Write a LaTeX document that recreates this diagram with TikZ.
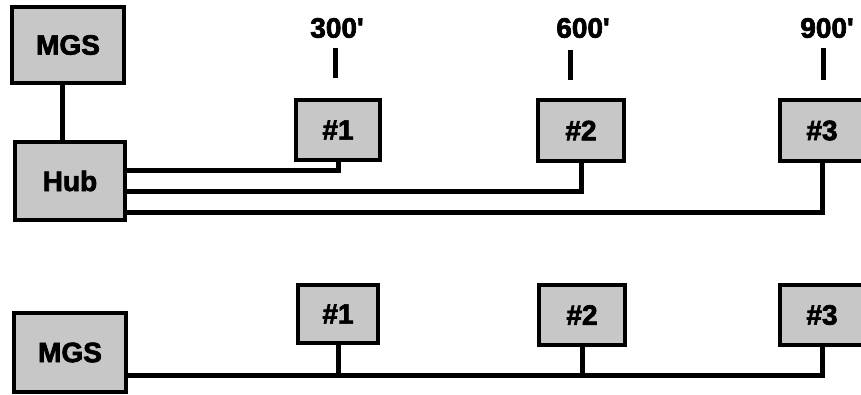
\documentclass[tikz,border=0pt]{standalone}
\usepackage{fontspec}
\setmainfont{Liberation Sans}
\newfontfamily\heavy{Liberation Sans Bold}[FakeBold=2.5]
\begin{document}
\begin{tikzpicture}[x=1pt,y=-1pt,
  box/.style={draw=black,line width=4.5pt,fill=black!22,inner sep=0pt,
    font=\heavy\fontsize{28}{28}\selectfont},
  lbl/.style={inner sep=0pt,font=\heavy\fontsize{28}{28}\selectfont},
  wire/.style={line width=5pt,line cap=butt},
  tick/.style={line width=5pt}]
\useasboundingbox (0,0) rectangle (861,394);
% top part
\node[box,minimum width=112pt,minimum height=76pt] (mgs) at (68,45) {MGS};
\node[box,minimum width=110pt,minimum height=78pt] (hub) at (70,181) {Hub};
\node[box,minimum width=84pt,minimum height=60pt] (t1) at (338,130) {\#1};
\node[box,minimum width=86pt,minimum height=61pt] (t2) at (581,130.5) {\#2};
\node[box,minimum width=84pt,minimum height=61pt] (t3) at (822,130.5) {\#3};
\node[lbl] (l1) at (337,28) {300'};
\node[lbl] (l2) at (583,28) {600'};
\node[lbl] (l3) at (827,28) {900'};
\coordinate (k1a) at (335,48); \coordinate (k1b) at (335,78);
\coordinate (k2a) at (570,50); \coordinate (k2b) at (570,80);
\coordinate (k3a) at (823,48); \coordinate (k3b) at (823,80);
\draw[tick] (k1a) -- (k1b);
\draw[tick] (k2a) -- (k2b);
\draw[tick] (k3a) -- (k3b);
\coordinate (mx) at (62,0);
\draw[wire] (mgs.south -| mx) -- (hub.north -| mx);
\coordinate (h1) at (0,170); \coordinate (h2) at (0,191); \coordinate (h3) at (0,212);
\draw[wire] (hub.east |- h1) -| (t1.south);
\draw[wire] (hub.east |- h2) -| (t2.south);
\draw[wire] (hub.east |- h3) -| (t3.south);
% bottom part
\node[box,minimum width=112pt,minimum height=79pt] (mgsb) at (70,352.5) {MGS};
\node[box,minimum width=80pt,minimum height=58pt] (b1) at (338,314) {\#1};
\node[box,minimum width=86pt,minimum height=60pt] (b2) at (582,315) {\#2};
\node[box,minimum width=84pt,minimum height=60pt] (b3) at (822,315) {\#3};
\coordinate (bus) at (0,375);
\draw[wire] (mgsb.east |- bus) -| (b3.south);
\draw[wire] (b1.south) -- (b1.south |- bus);
\draw[wire] (b2.south) -- (b2.south |- bus);
\end{tikzpicture}
\end{document}
